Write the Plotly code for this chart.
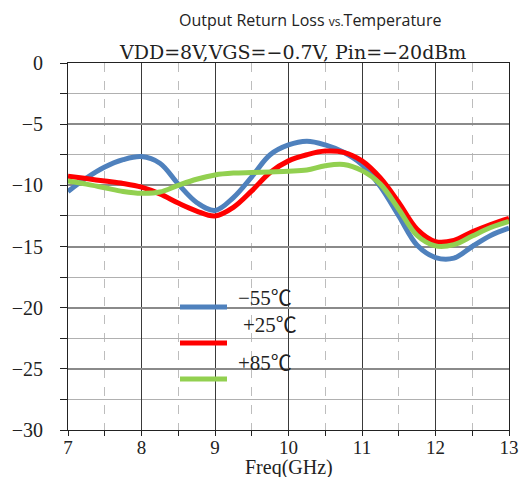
import plotly.graph_objects as go

freq = [7, 7.25, 7.5, 7.75, 8, 8.25, 8.5, 8.75, 9, 9.25, 9.5, 9.75, 10,
        10.25, 10.5, 10.75, 11, 11.25, 11.5, 11.75, 12, 12.25, 12.5, 12.75, 13]

s_m55 = [-10.5, -9.4, -8.5, -7.9, -7.65, -8.2, -9.9, -11.4, -12.05, -11.0, -9.3, -7.5, -6.7,
         -6.4, -6.7, -7.3, -8.3, -10.1, -12.5, -14.9, -15.9, -15.95, -15.0, -14.1, -13.5]
s_p25 = [-9.25, -9.45, -9.65, -9.85, -10.15, -10.7, -11.45, -12.1, -12.5, -11.8, -10.45, -8.95, -8.0,
         -7.5, -7.2, -7.3, -8.0, -9.4, -11.4, -13.6, -14.6, -14.5, -13.8, -13.2, -12.7]
s_p85 = [-9.65, -9.9, -10.2, -10.5, -10.65, -10.55, -10.0, -9.5, -9.15, -9.0, -8.95, -8.9, -8.85,
         -8.75, -8.4, -8.3, -8.8, -9.9, -11.95, -14.1, -14.95, -14.85, -14.15, -13.45, -12.95]

names = ["−55℃", "+25℃", "+85℃"]
colors = ["#4F81BD", "#FF0000", "#92D050"]
x_ticks = [7, 8, 9, 10, 11, 12, 13]
y_ticks = [0, -5, -10, -15, -20, -25, -30]

serif = "Liberation Serif, Noto Sans CJK SC"

L, R, T, B = 68, 14, 63, 47
W, H = 523, 477
PW, PH = W - L - R, H - T - B


def px(xpix):
    return (xpix - L) / PW


def py(ypix):
    return (H - B - ypix) / PH


fig = go.Figure()
for ys, nm, c in zip([s_m55, s_p25, s_p85], names, colors):
    fig.add_trace(go.Scatter(x=freq, y=ys, name=nm, mode="lines",
                             line=dict(color=c, width=5, shape="spline", smoothing=1.0),
                             showlegend=False))

fig.update_layout(
    width=W, height=H,
    margin=dict(l=L, r=R, t=T, b=B),
    paper_bgcolor="white", plot_bgcolor="white",
    font=dict(family=serif, size=20, color="#222"),
)

fig.update_xaxes(
    range=[7, 13], tickvals=x_ticks, ticktext=[str(v) for v in x_ticks],
    automargin=False,
    showgrid=True, gridcolor="#3a3a3a", gridwidth=1,
    showline=True, linecolor="#222", linewidth=1, mirror=True,
    ticks="", zeroline=False, ticklabelstandoff=0,
    tickfont=dict(family=serif, size=19, color="#222"),
    minor=dict(dtick=0.5, tick0=7, showgrid=True, gridcolor="#bdbdbd", griddash="dash",
               gridwidth=1.2, ticks="outside", ticklen=5, tickcolor="#222"),
)
fig.update_yaxes(
    range=[-30, 0], tickvals=y_ticks, ticktext=[str(v).replace("-", "−") for v in y_ticks],
    automargin=False,
    showgrid=True, gridcolor="#8a8a8a", gridwidth=1.5,
    showline=True, linecolor="#222", linewidth=1, mirror=True,
    ticks="outside", ticklen=7, tickcolor="#222", zeroline=False,
    ticklabelstandoff=13,
    tickfont=dict(family=serif, size=20, color="#222"),
    minor=dict(dtick=2.5, tick0=0, showgrid=True, gridcolor="#b0b0b0", gridwidth=1,
               ticks="outside", ticklen=7, tickcolor="#222"),
)

# Axis title
fig.add_annotation(xref="paper", yref="paper", x=px(289), y=py(467),
                   xanchor="center", yanchor="middle", showarrow=False,
                   text="Freq(GHz)", font=dict(family=serif, size=20, color="#222"))

# Titles
fig.add_annotation(xref="paper", yref="paper", x=px(310), y=py(20),
                   xanchor="center", yanchor="middle", showarrow=False,
                   text="Output Return Loss <span style='font-size:12px'>vs.</span>Temperature",
                   font=dict(family="Open Sans", size=16, color="#222"))
fig.add_annotation(xref="paper", yref="paper", x=px(292), y=py(52),
                   xanchor="center", yanchor="middle", showarrow=False,
                   text="VDD=8V,VGS=−0.7V, Pin=−20dBm",
                   font=dict(family="DejaVu Serif", size=19, color="#222"))

# Legend (manual)
leg_line_y = [307, 343, 379]
leg_text_y = [298, 325, 363]
leg_text_x = [265, 270, 265]
for ly, ty, tx, nm, c in zip(leg_line_y, leg_text_y, leg_text_x, names, colors):
    fig.add_shape(type="line", xref="paper", yref="paper",
                  x0=px(180), x1=px(227), y0=py(ly), y1=py(ly),
                  line=dict(color=c, width=5))
    fig.add_annotation(xref="paper", yref="paper", x=px(tx), y=py(ty),
                       xanchor="center", yanchor="middle", showarrow=False, text=nm,
                       font=dict(family=serif, size=21, color="#222"))

fig.write_html("out.html")
